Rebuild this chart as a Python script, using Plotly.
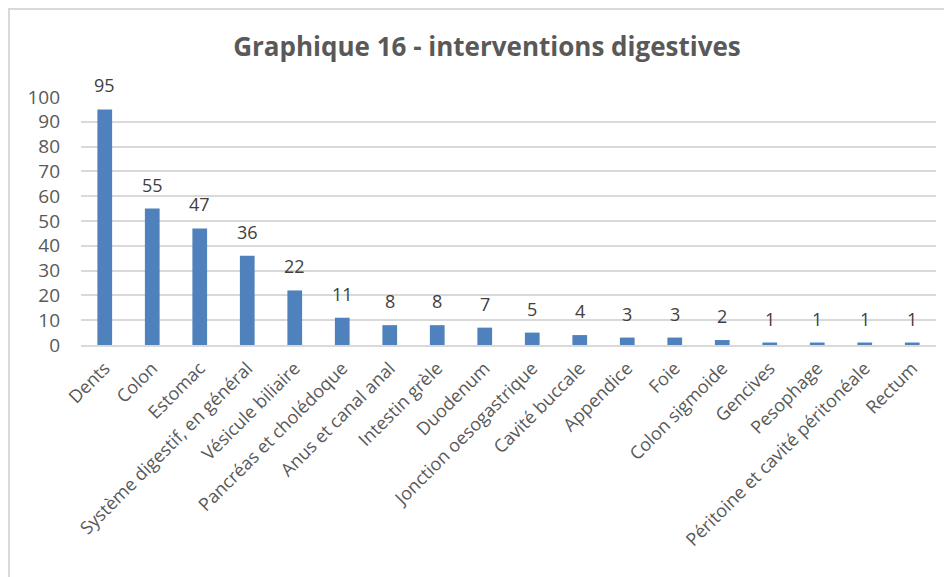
import plotly.graph_objects as go

# ── Data ────────────────────────────────────────────
categories = [
    "Dents", "Colon", "Estomac", "Système digestif, en général",
    "Vésicule biliaire", "Pancréas et cholédoque", "Anus et canal anal",
    "Intestin grèle", "Duodenum", "Jonction oesogastrique", "Cavité buccale",
    "Appendice", "Foie", "Colon sigmoide", "Gencives", "Pesophage",
    "Péritoine et cavité péritonéale", "Rectum",
]
counts = [95, 55, 47, 36, 22, 11, 8, 8, 7, 5, 4, 3, 3, 2, 1, 1, 1, 1]
y_ticks = list(range(0, 101, 10))

BAR_COLOR = "#4F81BD"
TEXT_COLOR = "#595959"
FONT = "Open Sans"

# page has an 8px body margin, so the figure is drawn 8px in
W, H = 944, 569
ML, MR, MT, MB = 73, 16, 89, 232
pw, ph = W - ML - MR, H - MT - MB

fig = go.Figure(go.Bar(
    x=categories,
    y=counts,
    marker=dict(color=BAR_COLOR, line=dict(width=0)),
    width=0.31,
    cliponaxis=False,
))

# value labels, lifted a bit above the bars like in Excel
for cat, val in zip(categories, counts):
    fig.add_annotation(
        x=cat, y=val, text=str(val),
        showarrow=False, yanchor="bottom", yshift=10,
        font=dict(family=FONT, size=18, color="#404040"),
    )

fig.update_layout(
    width=W, height=H,
    margin=dict(l=ML, r=MR, t=MT, b=MB, autoexpand=False),
    paper_bgcolor="white",
    plot_bgcolor="white",
    title=dict(
        text="<b>Graphique 16 - interventions digestives</b>",
        x=(479 - ML) / pw, xref="paper", xanchor="center",
        y=1 - 39 / H, yref="container", yanchor="middle",
        font=dict(family=FONT, size=26, color=TEXT_COLOR),
    ),
    font=dict(family=FONT, color=TEXT_COLOR),
    showlegend=False,
    xaxis=dict(
        tickangle=-45,
        automargin=False,
        tickfont=dict(family=FONT, size=18, color=TEXT_COLOR),
        showgrid=False,
        showline=True, linecolor="#D9D9D9", linewidth=1.5,
        ticks="",
        ticklabelstandoff=4,
    ),
    yaxis=dict(
        range=[0, 100],
        automargin=False,
        tickvals=y_ticks,
        tickfont=dict(family=FONT, size=19, color=TEXT_COLOR),
        showgrid=True, gridcolor="#D9D9D9", gridwidth=1.5,
        zeroline=False,
        showline=False,
        ticks="",
        ticklabelstandoff=20,
    ),
)

# outer chart border (top and left edges visible)
fig.add_shape(
    type="rect", xref="paper", yref="paper",
    x0=-(ML - 1) / pw, x1=(W + 10 - ML) / pw,
    y0=-(MB + 10) / ph, y1=1 + (MT - 1) / ph,
    line=dict(color="#D9D9D9", width=2),
    fillcolor="rgba(0,0,0,0)",
    layer="below",
)

fig.write_html("out.html")
